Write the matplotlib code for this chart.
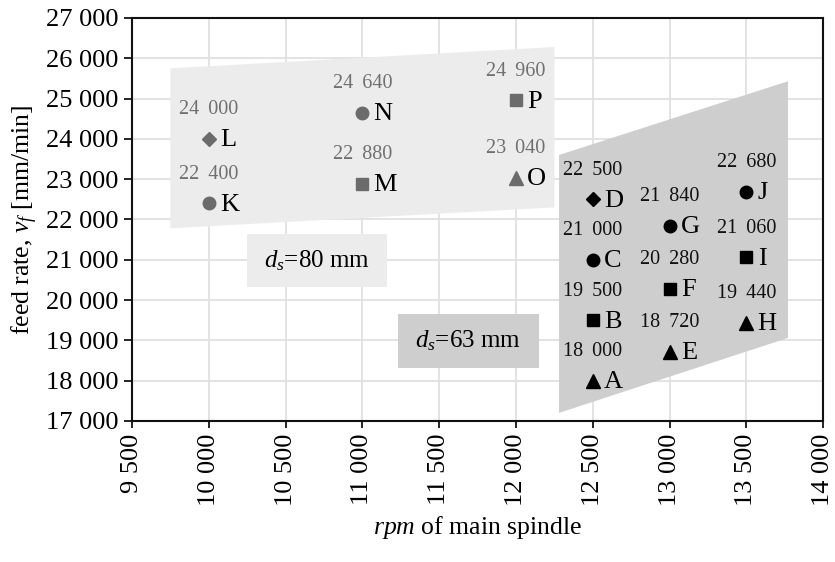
import matplotlib
matplotlib.use('Agg')
import matplotlib.pyplot as plt
from matplotlib.patches import Polygon, Rectangle
from matplotlib.ticker import FuncFormatter, MultipleLocator

plt.rcParams['font.family'] = ['Liberation Serif', 'DejaVu Serif']
plt.rcParams['mathtext.fontset'] = 'custom'
plt.rcParams['mathtext.rm'] = 'Liberation Serif'
plt.rcParams['mathtext.it'] = 'Liberation Serif:italic'

# d_s = 80 mm group (grey)
labels_80 = ['K', 'L', 'M', 'N', 'O', 'P']
rpm_80 = [10000, 10000, 11000, 11000, 12000, 12000]
feed_80 = [22400, 24000, 22880, 24640, 23040, 24960]
markers_80 = ['o', 'D', 's', 'o', '^', 's']

# d_s = 63 mm group (black)
labels_63 = ['A', 'B', 'C', 'D', 'E', 'F', 'G', 'H', 'I', 'J']
rpm_63 = [12500, 12500, 12500, 12500, 13000, 13000, 13000, 13500, 13500, 13500]
feed_63 = [18000, 19500, 21000, 22500, 18720, 20280, 21840, 19440, 21060, 22680]
markers_63 = ['^', 's', 'o', 'D', '^', 's', 'o', '^', 's', 'o']


def fmt(v, pos=None):
    return '{:,}'.format(int(round(v))).replace(',', ' ')


def fmt_point(v):
    return '{:,}'.format(int(round(v))).replace(',', ' \u2009')


fig = plt.figure(figsize=(8.35, 5.62), dpi=100)
ax = fig.add_axes([0.158, 0.251, 0.828, 0.717])

# shaded regions
ax.add_patch(Polygon([(9750, 25750), (12250, 26280), (12250, 22300), (9750, 21780)],
                     closed=True, fc='#ececec', ec='none', zorder=1))
ax.add_patch(Polygon([(12280, 23600), (13770, 25430), (13770, 19060), (12280, 17200)],
                     closed=True, fc='#cdcecd', ec='none', zorder=1))
ax.add_patch(Rectangle((10250, 20320), 910, 1310, fc='#ececec', ec='none', zorder=1))
ax.add_patch(Rectangle((11230, 18310), 920, 1340, fc='#cdcecd', ec='none', zorder=1))
ax.text(10705, 20975, '$d_s$=80 mm', fontsize=18, ha='center', va='center', zorder=3)
ax.text(11690, 18985, '$d_s$=63 mm', fontsize=18, ha='center', va='center', zorder=3)

sizes = {'o': 9, 's': 8.5, '^': 9.5, 'D': 7.5}

for lab, x, y, m in zip(labels_80, rpm_80, feed_80, markers_80):
    ax.plot(x, y, marker=m, ms=sizes[m], color='#6b6b6b', ls='none', zorder=4)
    ax.annotate(lab, (x, y), xytext=(8, -1), textcoords='offset points',
                fontsize=19, ha='left', va='center', zorder=5)
    ax.annotate(fmt_point(y), (x, y), xytext=(0, 21), textcoords='offset points',
                fontsize=14.5, color='#707070', ha='center', va='center', zorder=5)

for lab, x, y, m in zip(labels_63, rpm_63, feed_63, markers_63):
    ax.plot(x, y, marker=m, ms=sizes[m], color='black', ls='none', zorder=4)
    ax.annotate(lab, (x, y), xytext=(8, -1), textcoords='offset points',
                fontsize=19, ha='left', va='center', zorder=5)
    ax.annotate(fmt_point(y), (x, y), xytext=(0, 21), textcoords='offset points',
                fontsize=14.5, color='#111111', ha='center', va='center', zorder=5)

ax.set_xlim(9500, 14000)
ax.set_ylim(17000, 27000)
ax.xaxis.set_major_locator(MultipleLocator(500))
ax.yaxis.set_major_locator(MultipleLocator(1000))
ax.xaxis.set_major_formatter(FuncFormatter(fmt))
ax.yaxis.set_major_formatter(FuncFormatter(fmt))
ax.tick_params(axis='x', labelsize=19, rotation=90, length=5, width=1.2, pad=4)
ax.tick_params(axis='y', labelsize=19, length=6, width=1.2, pad=4)
ax.grid(True, color='#e0e0e0', lw=1.3, zorder=0)
ax.set_axisbelow(True)
for s in ax.spines.values():
    s.set_linewidth(1.5)
    s.set_color('#111111')

ax.set_xlabel('$rpm$ of main spindle', fontsize=18.5, labelpad=6)
ax.set_ylabel('feed rate, $v_f$ [mm/min]', fontsize=18.5, labelpad=4)

fig.savefig('out.png', dpi=100)
